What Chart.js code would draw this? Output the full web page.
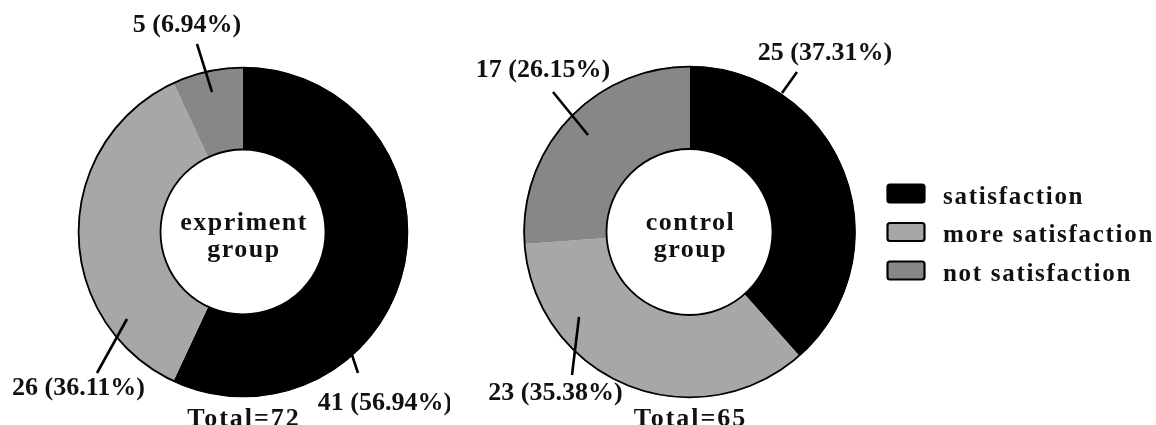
<!DOCTYPE html>
<html>
<head>
<meta charset="utf-8">
<title>Satisfaction by group</title>
<script src="https://cdn.jsdelivr.net/npm/chart.js@4.4.1/dist/chart.umd.min.js"></script>
<style>
  html, body { margin: 0; padding: 0; background: #ffffff; }
  #wrap { position: relative; width: 1156px; height: 425px; background: #ffffff; overflow: hidden; }
  canvas { position: absolute; top: 0; }
</style>
</head>
<body>
<div id="wrap">
  <canvas id="expChart" width="450" height="425" style="left:0"></canvas>
  <canvas id="ctrlChart" width="706" height="425" style="left:450px"></canvas>
</div>
<script>
// Response categories and counts for each group
const categories = ['satisfaction', 'more satisfaction', 'not satisfaction'];
const experimentCounts = [41, 26, 5];
const experimentShares = ['56.94%', '36.11%', '6.94%'];
const controlCounts = [25, 23, 17];
const controlShares = ['37.31%', '35.38%', '26.15%'];
const experimentTitle = ['expriment', 'group'];
const controlTitle = ['control', 'group'];

// Fill for each category (same order as categories)
const sliceColors = ['#000000', '#a7a7a7', '#878787'];

const SERIF = '"Liberation Serif", "Times New Roman", Times, serif';

// Callout placement, offsets from the ring centre (text baseline centre, leader line ends)
const experimentCallouts = [
  { text: [142, 178], line: [[106, 114], [115, 141]] },
  { text: [-164.5, 163], line: [[-116, 87], [-146, 141]] },
  { text: [-56, -200], line: [[-31, -140], [-46, -188]] }
];
const controlCallouts = [
  { text: [135.5, -172], line: [[92.5, -139], [107.5, -160]] },
  { text: [-134, 168], line: [[-110.5, 85], [-117.5, 143]] },
  { text: [-146.5, -155], line: [[-101.5, -97], [-136.5, -140]] }
];

function ringAnnotations(cfg) {
  return {
    id: 'ringAnnotations',
    afterDatasetsDraw(chart) {
      const ctx = chart.ctx;
      const meta = chart.getDatasetMeta(0);
      const p = meta.data[0].getProps(['x', 'y', 'outerRadius', 'innerRadius'], true);
      const cx = p.x, cy = p.y;
      const values = chart.data.datasets[0].data;
      const total = values.reduce((a, b) => a + b, 0);

      ctx.save();
      // rim of the ring
      ctx.strokeStyle = '#000';
      ctx.lineWidth = 1.8;
      ctx.beginPath();
      ctx.arc(cx, cy, p.outerRadius - 0.6, 0, Math.PI * 2);
      ctx.stroke();
      ctx.beginPath();
      ctx.arc(cx, cy, p.innerRadius, 0, Math.PI * 2);
      ctx.stroke();

      // leader lines and value labels
      ctx.fillStyle = '#111';
      ctx.textAlign = 'center';
      ctx.textBaseline = 'alphabetic';
      values.forEach((v, i) => {
        const c = cfg.callouts[i];
        ctx.lineWidth = 2.6;
        ctx.beginPath();
        ctx.moveTo(cx + c.line[0][0], cy + c.line[0][1]);
        ctx.lineTo(cx + c.line[1][0], cy + c.line[1][1]);
        ctx.stroke();
        ctx.font = 'bold 26px ' + SERIF;
        ctx.letterSpacing = '0px';
        ctx.fillText(v + ' (' + cfg.shares[i] + ')', cx + c.text[0], cy + c.text[1]);
      });

      // group name in the hole
      ctx.font = 'bold 26px ' + SERIF;
      ctx.letterSpacing = '1.5px';
      ctx.fillText(cfg.title[0], cx + 1, cy - 2);
      ctx.fillText(cfg.title[1], cx + 1, cy + 25);

      // total below the ring
      ctx.letterSpacing = '2px';
      ctx.fillText('Total=' + total, cx + 1, cy + 194);

      // category key
      if (cfg.legend) {
        const bg = chart.data.datasets[0].backgroundColor;
        const keyX = cfg.legend.x, tops = cfg.legend.tops;
        chart.data.labels.forEach((lab, i) => {
          const top = tops[i];
          ctx.fillStyle = bg[i];
          ctx.strokeStyle = '#000';
          ctx.lineWidth = 2.2;
          ctx.beginPath();
          ctx.roundRect(keyX, top, 37, 18, 2.5);
          ctx.fill();
          ctx.stroke();
          ctx.fillStyle = '#111';
          ctx.textAlign = 'left';
          ctx.font = 'bold 25px ' + SERIF;
          ctx.letterSpacing = '1.7px';
          ctx.fillText(lab, cfg.legend.textX, top + 19);
        });
      }
      ctx.restore();
    }
  };
}

function makeRing(canvasId, counts, padding, cfg) {
  return new Chart(document.getElementById(canvasId), {
    type: 'doughnut',
    data: {
      labels: categories,
      datasets: [{
        data: counts,
        backgroundColor: sliceColors,
        borderWidth: 0,
        hoverOffset: 0
      }]
    },
    options: {
      responsive: false,
      animation: false,
      events: [],
      cutout: '50%',
      rotation: 0,
      layout: { padding: padding },
      plugins: {
        legend: { display: false },
        tooltip: { enabled: false }
      }
    },
    plugins: [ringAnnotations(cfg)]
  });
}

makeRing('expChart', experimentCounts,
  { left: 78, right: 42, top: 67, bottom: 28 },
  { callouts: experimentCallouts, shares: experimentShares, title: experimentTitle });

makeRing('ctrlChart', controlCounts,
  { left: 73.5, right: 300.5, top: 66, bottom: 27 },
  { callouts: controlCallouts, shares: controlShares, title: controlTitle,
    legend: { x: 437.5, textX: 493, tops: [184.5, 223, 261.5] } });
</script>
</body>
</html>
